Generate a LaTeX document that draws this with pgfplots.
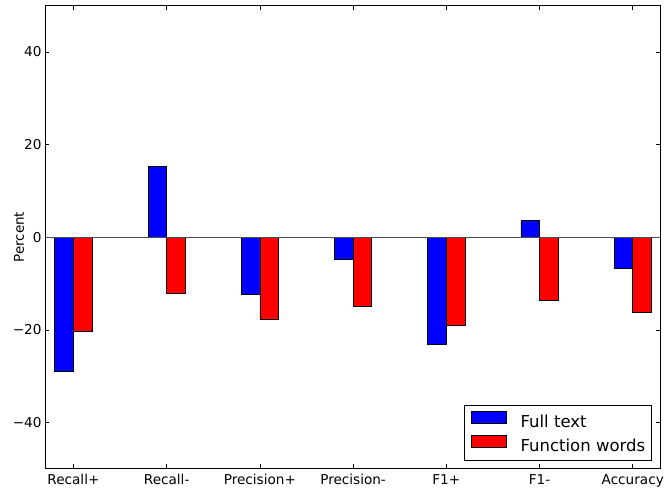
\documentclass[border=0pt]{standalone}
\usepackage{fontspec}
\setmainfont{DejaVu Sans}
\usepackage{pgfplots}
\pgfplotsset{compat=1.18}
\begin{document}
\begin{tikzpicture}
\begin{axis}[
  name=ax,
  scale only axis, width=615.7pt, height=463.5pt,
  xmin=-0.305, xmax=6.3, ymin=-50, ymax=50,
  xtick={0,1,2,3,4,5,6},
  xticklabels={Recall+,Recall-,Precision+,Precision-,F1+,F1-,Accuracy},
  ytick={-40,-20,0,20,40},
  yticklabels={−40,−20,0,20,40},
  tick label style={font=\fontsize{13.6}{16}\selectfont},
  xticklabel style={yshift=-2pt},
  ylabel={Percent},
  ylabel style={font=\fontsize{13.5}{16}\selectfont, at={(axis description cs:-0.0422,0.5)}, anchor=center},
  major tick length=4.5pt,
  tick style={black, line width=0.6pt},
  axis line style={line width=1pt},
  legend cell align=left,
  legend style={at={(1,0)}, anchor=south east, xshift=-8.4pt, yshift=8.3pt,
    font=\fontsize{16.5}{20}\selectfont, draw=black, line width=0.9pt,
    inner xsep=6.7pt, inner ysep=5.5pt,
    nodes={inner sep=0pt, text height=12pt, text depth=3pt},
    /tikz/column sep=14pt, /tikz/row sep=4pt},
  legend image code/.code={\draw[#1, line width=0.6pt] (0pt,0pt) rectangle (35pt,12pt);},
]
\addplot[ybar, bar width=0.2, bar shift=-0.1, fill=blue, draw=black, line width=0.6pt]
  coordinates {(0,-29.0) (1,15.3) (2,-12.3) (3,-4.7) (4,-23.0) (5,3.6) (6,-6.8)};
\addlegendentry{Full text}
\addplot[ybar, bar width=0.2, bar shift=0.1, fill=red, draw=black, line width=0.6pt]
  coordinates {(0,-20.3) (1,-12.0) (2,-17.6) (3,-15.0) (4,-19.1) (5,-13.5) (6,-16.2)};
\addlegendentry{Function words}
\addplot[black!70, line width=1pt, forget plot] coordinates {(-0.305,0) (6.3,0)};
\end{axis}
\pgfresetboundingbox
\path ([shift={(-45pt,-23pt)}]ax.south west) rectangle ([shift={(3.3pt,5.5pt)}]ax.north east);
\end{tikzpicture}
\end{document}
